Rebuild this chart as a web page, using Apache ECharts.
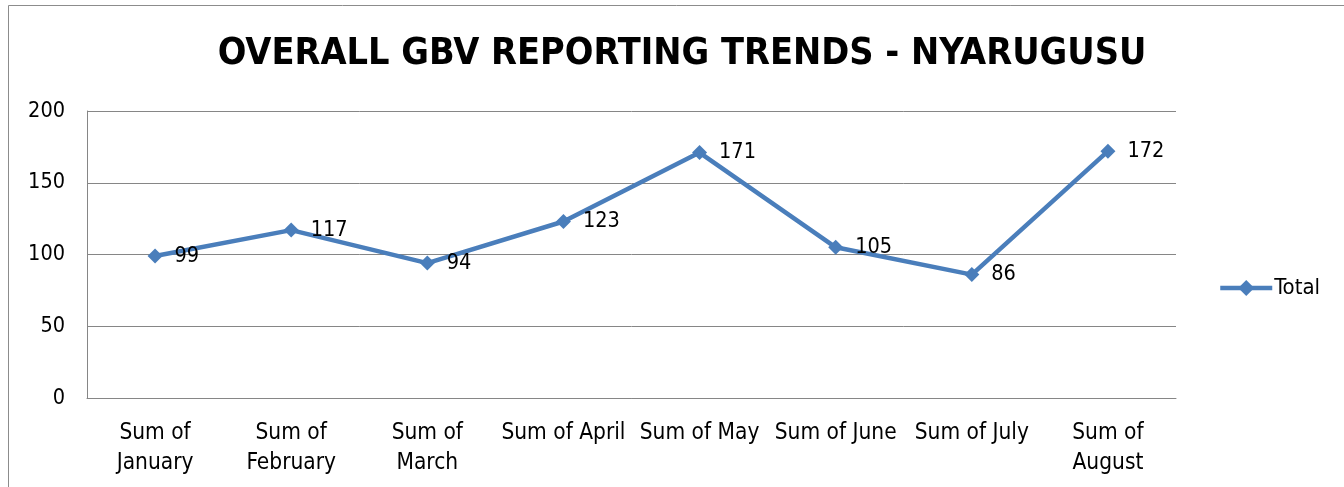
<!DOCTYPE html>
<html><head><meta charset="utf-8">
<script src="https://cdn.jsdelivr.net/npm/echarts@6/dist/echarts.min.js"></script>
<style>html,body{margin:0;padding:0;background:#fff}#c{width:1344px;height:487px}</style>
</head><body><div id="c"></div>
<script>
const categories = ["Sum of\nJanuary","Sum of\nFebruary","Sum of\nMarch","Sum of April","Sum of May","Sum of June","Sum of July","Sum of\nAugust"];
const totals = [99,117,94,123,171,105,86,172];
const seriesName = "Total";
const titleText = "OVERALL GBV REPORTING TRENDS - NYARUGUSU";
const FONT = "'Liberation Sans Narrow','DejaVu Sans Condensed',sans-serif";
const chart = echarts.init(document.getElementById('c'));
chart.setOption({
  animation:false,
  backgroundColor:'#fff',
  graphic:[{type:'rect',shape:{x:8.5,y:5.5,width:1400,height:600},style:{fill:'none',stroke:'#8c8c8c',lineWidth:1}}],
  title:{text:titleText,left:677,top:30,textAlign:'center',textStyle:{fontFamily:FONT,fontWeight:'bold',fontSize:37.5,color:'#000'}},
  legend:{left:1213,top:272,itemWidth:52,itemHeight:20,itemGap:0,
    lineStyle:{width:4.5,color:'#4a7ebb'},
    textStyle:{fontFamily:FONT,fontSize:22,color:'#000',padding:[0,0,0,-3]},data:[seriesName]},
  grid:{left:87,right:168,top:111,bottom:89},
  xAxis:{type:'category',data:categories,boundaryGap:true,
    axisLine:{lineStyle:{color:'#868686',width:1}},axisTick:{show:false},
    axisLabel:{fontFamily:FONT,fontSize:22.5,color:'#000',lineHeight:30,margin:20,interval:0}},
  yAxis:{type:'value',min:0,max:200,interval:50,
    axisLine:{show:true,lineStyle:{color:'#868686',width:1}},axisTick:{show:false},
    splitLine:{lineStyle:{color:'#868686',width:1}},
    axisLabel:{fontFamily:FONT,fontSize:21.5,color:'#000',margin:22}},
  series:[{name:seriesName,type:'line',data:totals,symbol:'diamond',symbolSize:15,
    lineStyle:{color:'#4a7ebb',width:4.5},itemStyle:{color:'#4a7ebb'},
    label:{show:true,position:'right',distance:12,fontFamily:FONT,fontSize:21.5,color:'#000'}}]
});
</script></body></html>
